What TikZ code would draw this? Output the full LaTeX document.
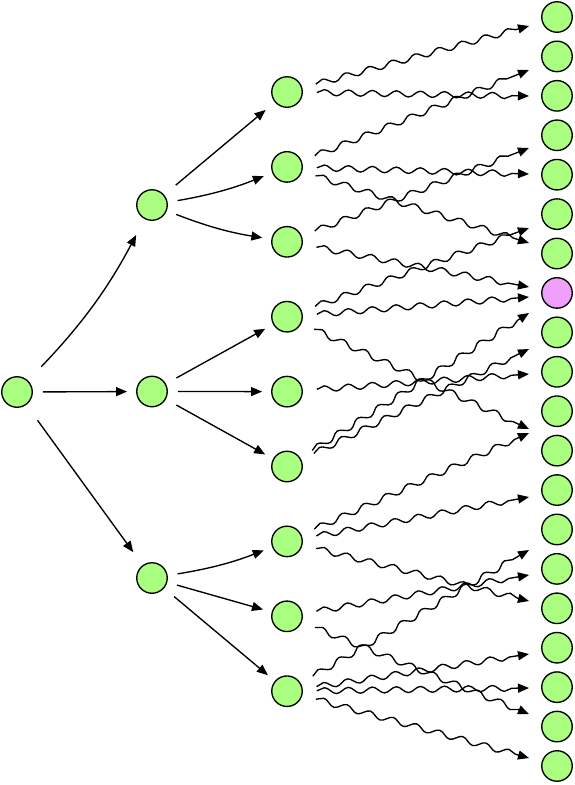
\documentclass[tikz,border=0pt]{standalone}
\usetikzlibrary{arrows.meta,decorations.pathmorphing}
\definecolor{leaf}{RGB}{170,255,128}
\definecolor{goal}{RGB}{240,160,250}
\begin{document}
\begin{tikzpicture}[x=1pt,y=-1pt,>={Triangle[length=11pt,width=9pt]},line width=1.35pt,node distance=74.9pt,
	dot/.style={circle,draw,fill=leaf,minimum size=30.5pt,inner sep=0pt},
	link/.style={->,shorten <=10pt,shorten >=9pt},
	wave/.style={->,decorate,decoration={snake,amplitude=3pt,segment length=24pt,pre=moveto,pre length=14pt,post length=12pt}}]

\useasboundingbox (0,0) rectangle (575,785);

\node[dot]   (r)  at (17,392)      	{};
\node[dot]   (a1) at (152,205)     	{};
 \node[dot,node distance=186.5pt] 	 (a2) [below of=a1]  	{};
 \node[dot,node distance=186.5pt] 	 (a3) [below of=a2]  	{};

\node[dot]   (b1) at (287,92)      	{};
	\node[dot]   (b2) [below of=b1]     	{};
	\node[dot]   (b3) [below of=b2]     	{};
	\node[dot]   (b4) [below of=b3]     	{};
	\node[dot]   (b5) [below of=b4]     	{};
	\node[dot]   (b6) [below of=b5]     	{};
	\node[dot]   (b7) [below of=b6]     	{};
	\node[dot]   (b8) [below of=b7]     	{};
	\node[dot]   (b9) [below of=b8]     	{};

\begin{scope}[node distance=39.42pt]
\node[dot]   (c1) at (557,17)      	{};
	\node[dot]   (c2)  [below of=c1]   	{};
	\node[dot]   (c3)  [below of=c2]   	{};
	\node[dot]   (c4)  [below of=c3]   	{};
	\node[dot]   (c5)  [below of=c4]   	{};
	\node[dot]   (c6)  [below of=c5]   	{};
	\node[dot]   (c7)  [below of=c6]   	{};
	\node[dot,fill=goal]   (c8)  [below of=c7]   	{};
	\node[dot]   (c9)  [below of=c8]   	{};
	\node[dot]   (c10) [below of=c9]   	{};
	\node[dot]   (c11) [below of=c10]  	{};
	\node[dot]   (c12) [below of=c11]  	{};
	\node[dot]   (c13) [below of=c12]  	{};
	\node[dot]   (c14) [below of=c13]  	{};
	\node[dot]   (c15) [below of=c14]  	{};
	\node[dot]   (c16) [below of=c15]  	{};
	\node[dot]   (c17) [below of=c16]  	{};
	\node[dot]   (c18) [below of=c17]  	{};
	\node[dot]   (c19) [below of=c18]  	{};
	\node[dot]   (c20) [below of=c19]  	{};
\end{scope}

\coordinate (t1)  at (529,26);
\coordinate (t2)  at (529,70);
\coordinate (t3)  at (529,96);
\coordinate (t4)  at (529,148);
\coordinate (t5)  at (529,174);
\coordinate (t6)  at (529,228);
\coordinate (t7)  at (529,243);
\coordinate (t8)  at (529,287);
\coordinate (t9)  at (529,297);
\coordinate (t10) at (529,313);
\coordinate (t11) at (529,349);
\coordinate (t12) at (529,374);
\coordinate (t13) at (529,429);
\coordinate (t14) at (529,433);
\coordinate (t15) at (529,497);
\coordinate (t16) at (529,550);
\coordinate (t17) at (529,575);
\coordinate (t18) at (529,601);
\coordinate (t19) at (529,654);
\coordinate (t20) at (529,688);
\coordinate (t21) at (529,714);
\coordinate (t22) at (529,758);

	\draw[link,shorten <=19pt,shorten >=18pt] (r) to[bend right=8] (a1);
	\draw[link] (r)  to (a2);
	\draw[link,shorten <=19pt,shorten >=16pt] (r)  to (a3);

	\draw[link,shorten <=15pt,shorten >=12pt] (a1) to (b1);
	\draw[link] (a1) to[bend right=6] (b2);
	\draw[link] (a1) to[bend right=6] (b3);
	\draw[link,shorten <=12pt] (a2) to (b4);
	\draw[link] (a2) to (b5);
	\draw[link,shorten <=12pt] (a2) to (b6);
	\draw[link] (a3) to[bend right=6] (b7);
	\draw[link] (a3) to (b8);
	\draw[link,shorten <=13pt] (a3) to (b9);

	\draw[wave] (b1) -- (t1);
	\draw[wave] (b1) -- (t3);
	\draw[wave] (b2) -- (t2);
	\draw[wave] (b2) -- (t5);
	\draw[wave] (b2) -- (t7);
	\draw[wave] (b3) -- (t4);
	\draw[wave] (b3) -- (t8);
	\draw[wave] (b4) -- (t6);
	\draw[wave] (b4) -- (t9);
	\draw[wave] (b4) -- (t13);
	\draw[wave] (b5) -- (t12);
	\draw[wave] (b6) -- (t10);
	\draw[wave] (b6) -- (t11);
	\draw[wave] (b7) -- (t14);
	\draw[wave] (b7) -- (t15);
	\draw[wave] (b7) -- (t18);
	\draw[wave] (b8) -- (t17);
	\draw[wave] (b8) -- (t21);
	\draw[wave] (b9) -- (t16);
	\draw[wave] (b9) -- (t19);
	\draw[wave] (b9) -- (t20);
	\draw[wave] (b9) -- (t22);

\end{tikzpicture}
\end{document}
